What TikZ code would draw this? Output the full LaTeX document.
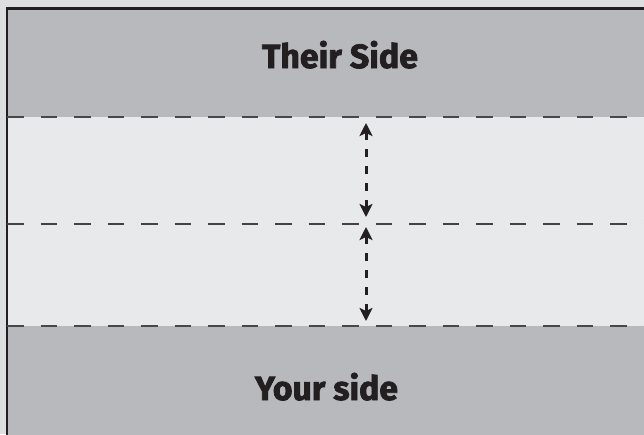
\documentclass[tikz,border=0pt]{standalone}
\usepackage{fontspec}
\setmainfont{Fira Sans}[BoldFeatures={FakeBold=2.2}]
\usetikzlibrary{arrows.meta}
\definecolor{bgc}{HTML}{DDDEDF}
\definecolor{band}{HTML}{B8B9BC}
\definecolor{mid}{HTML}{E8E9EA}
\definecolor{dashc}{HTML}{48484A}
\definecolor{ink}{HTML}{231F20}
\tikzset{
  boundary/.style={draw=dashc, line width=2pt, dash pattern=on 16.5pt off 17pt},
  midline/.style={draw=ink!85, line width=1.3pt, dash pattern=on 16.5pt off 17pt},
  gaptip/.style={Stealth[length=13pt,width=13pt,inset=3pt,fill=ink]},
  gap/.style={draw=ink, line width=3pt, dash pattern=on 8pt off 9pt,
    {Stealth[length=13pt,width=13pt,inset=3pt,fill=ink]}-{Stealth[length=13pt,width=13pt,inset=3pt,fill=ink]}},
  title/.style={text=ink, font=\fontsize{33.5}{36}\selectfont\bfseries, inner sep=0pt, anchor=base}
}
\begin{document}
\begin{tikzpicture}[x=1pt,y=-1pt]
\useasboundingbox (0,0) rectangle (644,434);
\fill[bgc] (0,0) rectangle (644,434);
\fill[band] (7,8.5) rectangle (700,117);
\fill[mid] (7,117) rectangle (700,325.5);
\fill[band] (7,325.5) rectangle (700,480);
\draw[ink, line width=2.2pt] (700,8.5) -- (7,8.5) -- (7,480);
\coordinate (tl) at (7,117);   \coordinate (tr) at (644,117);
\coordinate (ml) at (7,224);   \coordinate (mr) at (644,224);
\coordinate (bl) at (7,325.5); \coordinate (br) at (644,325.5);
\draw[boundary] (tl) -- (tr);
\draw[midline] (ml) -- (mr);
\draw[boundary] (bl) -- (br);
\coordinate (a1) at (366,123);
\coordinate (a2) at (366,217);
\coordinate (a3) at (366,227);
\coordinate (a4) at (366,321);
\draw[gap] (a1) -- (a2);
\draw[gap] (a3) -- (a4);
\node[title] (their) at (340,68) {\resizebox{156pt}{\height}{Their Side}};
\node[title] (your) at (326.5,400) {\resizebox{143pt}{\height}{Your side}};
\end{tikzpicture}
\end{document}
